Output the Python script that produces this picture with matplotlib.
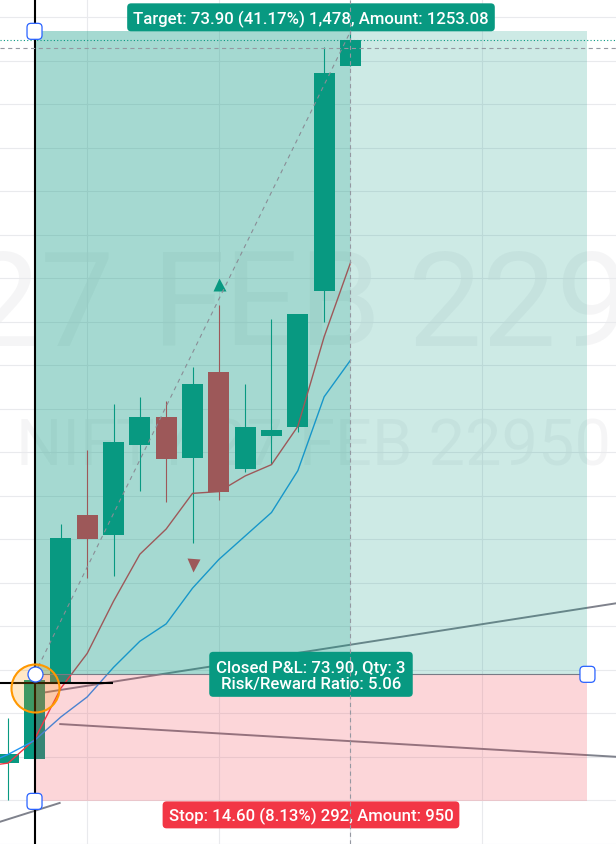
import matplotlib
matplotlib.use("Agg")
import matplotlib.pyplot as plt
import matplotlib.transforms as mtransforms
from matplotlib.patches import Rectangle, FancyBboxPatch

plt.rcParams["font.family"] = ["Roboto", "DejaVu Sans"]
plt.rcParams["lines.scale_dashes"] = False

W_PX, H_PX, DPI = 616, 844, 100

# ---------------- price data (one bar per index) ----------------
bar_index = list(range(14))
opens = [169.31, 169.73, 178.60, 197.81, 195.51, 205.86, 209.07, 204.36,
         214.25, 203.10, 206.89, 207.93, 223.56, 249.41]
highs = [174.48, 178.90, 196.78, 205.28, 210.57, 211.37, 210.91, 214.82,
         221.95, 212.87, 220.34, 220.91, 251.60, 253.40]
lows = [165.06, 169.73, 178.60, 190.57, 190.80, 200.57, 199.31, 194.59,
        199.54, 202.75, 203.67, 207.35, 219.99, 249.41]
closes = [170.34, 178.85, 195.17, 195.05, 206.20, 209.07, 204.25, 212.87,
          200.45, 207.93, 207.58, 220.91, 248.61, 252.40]

# moving averages
ma_index = list(range(-1, 14))
ma_fast = [168.9, 169.3, 172.0, 177.9, 181.9, 187.9, 193.3, 196.2,
           200.3, 200.5, 202.3, 203.6, 208.0, 218.3, 226.8]
ma_slow = [169.0, 170.3, 171.9, 174.6, 176.9, 180.3, 183.3, 185.3,
           189.4, 192.7, 195.4, 198.1, 202.9, 211.4, 215.6]

# signal shapes
signal_up_bar, signal_up_price = 8, 224.4
signal_dn_bar, signal_dn_price = 7, 192.1

# long position
entry_price = 179.50
target_gain = 73.90
stop_loss = 14.60
tick_size = 0.05
target_amount = 1253.08
stop_amount = 950
qty = 3
entry_bar, exit_bar, tool_end_bar = 1, 13, 22

last_price = 252.40
cross_bar, cross_price = 13, 251.5

# hand drawn lines
trend_a_x, trend_a_y = [1.0, 23.1], [177.24, 187.67]
trend_b_x, trend_b_y = [1.94, 23.1], [173.79, 170.02]
trend_c_x, trend_c_y = [-0.4, 1.99], [162.47, 164.75]
level_x, level_y = [-0.4, 3.98], [178.5, 178.5]
highlight_bar, highlight_price = 1, 177.9

grid_prices = list(range(160, 260, 5))
grid_bars = [3, 8, 13, 18]

watermark_big = ["27", "FEB", "22950"]
watermark_small = "NIFTY 27 FEB 22950"

# ---------------- colours ----------------
UP = "#089981"
DOWN = "#F23645"
GRID = "#e9eaed"
GREY = "#787B86"
HANDLE = "#2962FF"
WM = (42 / 255, 46 / 255, 57 / 255, 0.045)

target_price = entry_price + target_gain
stop_price = entry_price - stop_loss

fig = plt.figure(figsize=(W_PX / DPI, H_PX / DPI), dpi=DPI)
ax = fig.add_axes([0, 0, 1, 1])
ax.set_xlim(-0.311, 23.084)
ax.set_ylim(160, 257)
ax.axis("off")
ident = mtransforms.IdentityTransform()


def pt(px):
    return px * 72.0 / DPI


def disp(x, y):
    return ax.transData.transform((x, y))


# ---------------- watermark ----------------
big_fs = pt(132)
big_base = H_PX - 346
ax.text(114, big_base, watermark_big[0], transform=ident, ha="right", va="baseline",
        fontsize=big_fs, color=WM, zorder=0)
ax.text(151, big_base, watermark_big[1], transform=ident, ha="left", va="baseline",
        fontsize=big_fs, color=WM, zorder=0)
ax.text(408, big_base, watermark_big[2], transform=ident, ha="left", va="baseline",
        fontsize=big_fs, color=WM, zorder=0)
ax.text(313, H_PX - 465, watermark_small, transform=ident, ha="center", va="baseline",
        fontsize=pt(65), color=WM, zorder=0)

# ---------------- grid ----------------
for p in grid_prices:
    ax.axhline(p, color=GRID, lw=0.8, zorder=0.5)
for b in grid_bars:
    ax.axvline(b, color=GRID, lw=0.8, zorder=0.5)

# ---------------- drawings under the position shading ----------------
for xs, ys in [(trend_a_x, trend_a_y), (trend_b_x, trend_b_y), (trend_c_x, trend_c_y)]:
    ax.plot(xs, ys, color=GREY, lw=1.4, alpha=0.95, zorder=1, solid_capstyle="butt")

# ---------------- candles ----------------
body_w = 0.8
for i, o, h, l, c in zip(bar_index, opens, highs, lows, closes):
    col = UP if c >= o else DOWN
    ax.vlines(i, l, h, color=col, lw=0.8, zorder=2)
    ax.add_patch(Rectangle((i - body_w / 2, min(o, c)), body_w, abs(c - o),
                           fc=col, ec="none", zorder=2.1))

ax.plot(ma_index, ma_fast, color=DOWN, lw=1.0, zorder=2.5)
ax.plot(ma_index, ma_slow, color="#2196F3", lw=1.0, zorder=2.5)

ax.plot([signal_up_bar], [signal_up_price], marker="^", ms=pt(13), color=UP,
        mec="none", zorder=2.6)
ax.plot([signal_dn_bar], [signal_dn_price], marker="v", ms=pt(13), color=DOWN,
        mec="none", zorder=2.6)

# ---------------- position tool ----------------
ax.add_patch(Rectangle((entry_bar, entry_price), tool_end_bar - entry_bar, target_gain,
                       fc=UP, alpha=0.2, ec="none", zorder=3))
ax.add_patch(Rectangle((entry_bar, entry_price), exit_bar - entry_bar, target_gain,
                       fc=UP, alpha=0.2, ec="none", zorder=3))
ax.add_patch(Rectangle((entry_bar, stop_price), tool_end_bar - entry_bar, stop_loss,
                       fc=DOWN, alpha=0.2, ec="none", zorder=3))
ax.plot([entry_bar, tool_end_bar], [entry_price, entry_price], color=GREY, lw=0.8, zorder=4)

# trade path
ax.plot([entry_bar, exit_bar], [entry_price, target_price], color="#8a8d96", lw=0.8,
        dashes=(3, 3), zorder=4)

# last price line
ax.axhline(last_price, color=UP, lw=0.8, dashes=(0.8, 1.6), zorder=4)

# black marker lines
ax.axvline(entry_bar, color="black", lw=1.5, zorder=5)
ax.plot(level_x, level_y, color="black", lw=1.5, zorder=5, solid_capstyle="butt")

# highlight circle
ax.plot([highlight_bar], [highlight_price], marker="o", ms=pt(48),
        mfc=(1.0, 0.6, 0.0, 0.22), mec="#FF9800", mew=1.5, zorder=6)

# handles
ax.plot([entry_bar], [entry_price], marker="o", ms=pt(15), mfc="white", mec=HANDLE,
        mew=0.9, zorder=9)
for hx, hy in [(entry_bar, target_price), (entry_bar, stop_price), (tool_end_bar, entry_price)]:
    dx, dy = disp(hx, hy)
    ax.add_patch(FancyBboxPatch((dx - 7.5, dy - 8), 15, 16,
                                boxstyle="round,pad=0,rounding_size=4", transform=ident,
                                fc="white", ec=HANDLE, lw=0.9, zorder=9))

# ---------------- labels ----------------
renderer = fig.canvas.get_renderer()
label_fs = pt(16.8)
mid_x = disp((entry_bar + tool_end_bar) / 2, entry_price)[0]


def label(lines, bottom, height, color, pad):
    gap = 16.6
    base0 = bottom + 7.5
    texts = []
    for k, s in enumerate(reversed(lines)):
        t = ax.text(mid_x, base0 + k * gap, s, transform=ident, ha="center",
                    va="baseline", fontsize=label_fs, fontweight="medium",
                    color="white", zorder=11)
        texts.append(t)
    w = max(t.get_window_extent(renderer).width for t in texts) + 2 * pad
    ax.add_patch(FancyBboxPatch((mid_x - w / 2, bottom), w, height,
                                boxstyle="round,pad=0,rounding_size=4", transform=ident,
                                fc=color, ec="none", zorder=10))


pct_t = target_gain / entry_price * 100
pct_s = stop_loss / entry_price * 100
t_ticks = round(target_gain / tick_size)
s_ticks = round(stop_loss / tick_size)
rr = target_gain / stop_loss

ty = disp(0, target_price)[1]
label([f"Target: {target_gain:.2f} ({pct_t:.2f}%) {t_ticks:,}, Amount: {target_amount:.2f}"],
      ty, 28, UP, 6)

sy = disp(0, stop_price)[1]
label([f"Stop: {stop_loss:.2f} ({pct_s:.2f}%) {s_ticks}, Amount: {stop_amount}"],
      sy - 27, 27, DOWN, 6)

ey = disp(0, entry_price)[1]
label([f"Closed P&L: {target_gain:.2f}, Qty: {qty}", f"Risk/Reward Ratio: {rr:.2f}"],
      ey - 22.5, 45, UP, 7)

# crosshair, drawn over everything
ax.axhline(cross_price, color="#9598A1", lw=0.8, dashes=(3, 2.5), zorder=12)
ax.axvline(cross_bar, color="#9598A1", lw=0.8, dashes=(3, 2.5), zorder=12)

fig.savefig("out.png", dpi=DPI)
